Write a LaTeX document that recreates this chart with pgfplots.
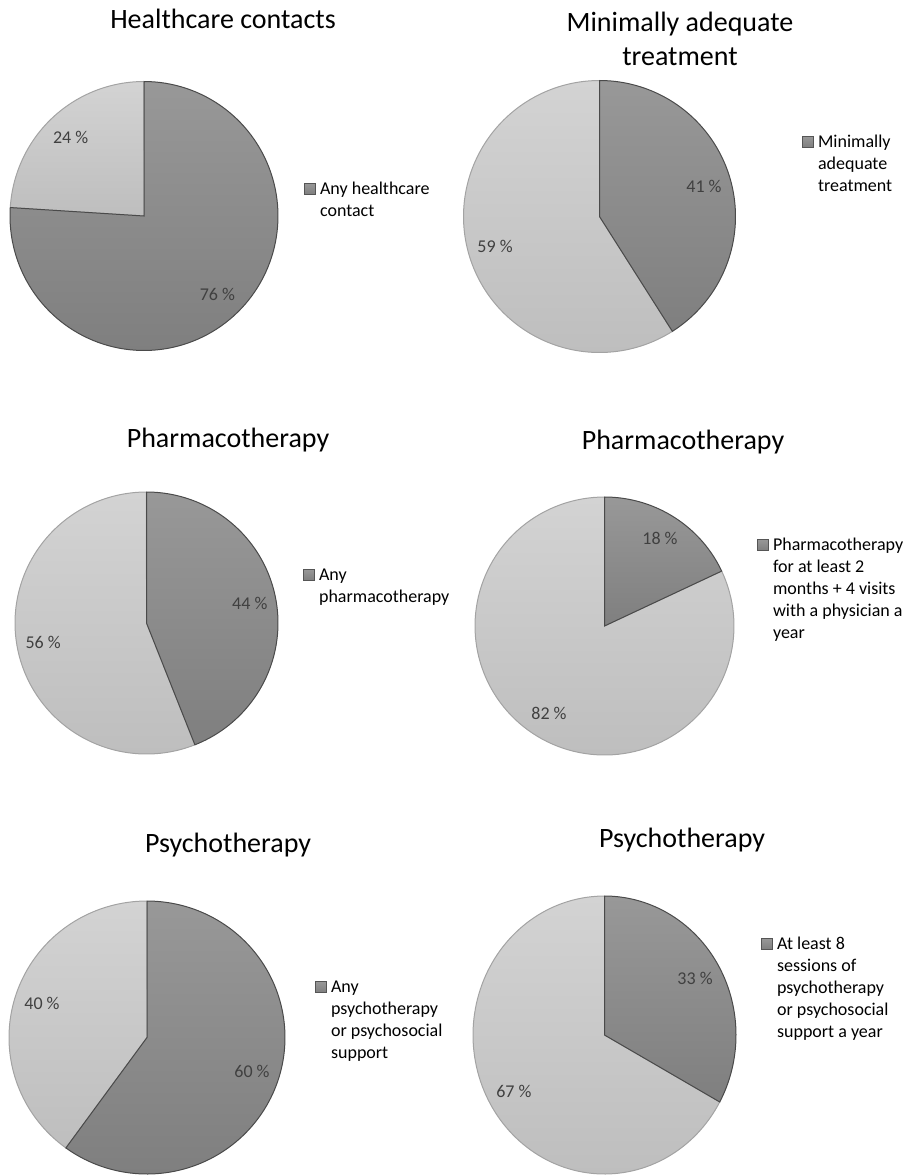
\documentclass[border=0pt]{standalone}
\usepackage{pgfplots}
\pgfplotsset{compat=1.18}
\usepackage{fontspec}
\setmainfont{Carlito}
\definecolor{darkA}{HTML}{989898}
\definecolor{darkB}{HTML}{7F7F7F}
\definecolor{lightA}{HTML}{D3D3D3}
\definecolor{lightB}{HTML}{BEBEBE}
\definecolor{darkedge}{HTML}{4A4A4A}
\definecolor{lightedge}{HTML}{A3A3A3}
\definecolor{lbl}{HTML}{404040}
\definecolor{legfill}{HTML}{8A8A8A}
\definecolor{legedge}{HTML}{555555}

\tikzset{plbl/.style={font=\fontsize{13.5}{16.5}\selectfont, text=lbl, inner sep=0pt}}
\pgfplotsset{
  pieax/.style={
    scale only axis, hide axis, clip=false,
    xmin=-1, xmax=1, ymin=-1, ymax=1,
    anchor=center,
    legend style={anchor=north west, draw=none, fill=none, inner sep=0pt,
      column sep=3pt,
      font=\fontsize{13.5}{16.5}\selectfont,
      nodes={inner sep=0pt},
      cells={anchor=base west}},
    legend image code/.code={%
      \draw[fill=legfill, draw=legedge, line width=0.6pt] (0pt,0pt) rectangle (8.25pt,8.25pt);},
  },
}

% #1 index, #2 width, #3 height, #4 dark share (%), #5 legend text, #6 legend position (axis description cs)
\newcommand{\pie}[6]{%
  \pgfmathtruncatemacro{\lp}{100-#4}%
  \begin{axis}[pieax, at={(c#1)}, width=#2, height=#3, legend style={at={(#6)}}]
    \addplot[forget plot, draw=lightedge, line width=0.75pt, top color=lightA, bottom color=lightB,
      domain=3.6*#4:360, samples=120] ({sin(x)},{cos(x)}) -- (axis cs:0,0) -- cycle;
    \addplot[draw=darkedge, line width=0.75pt, top color=darkA, bottom color=darkB,
      domain=0:3.6*#4, samples=120] ({sin(x)},{cos(x)}) -- (axis cs:0,0) -- cycle;
    \addlegendentry{\begin{tabular}[t]{@{}l@{}}#5\end{tabular}}
    \node[plbl] at (axis cs:{0.8*sin(1.8*#4)},{0.8*cos(1.8*#4)}) {#4 \%};
    \node[plbl] at (axis cs:{0.8*sin(3.6*#4+1.8*(100-#4))},{0.8*cos(3.6*#4+1.8*(100-#4))}) {\lp\ \%};
  \end{axis}%
}

\begin{document}
\begin{tikzpicture}
\begin{scope}[x=0.75pt,y=-0.75pt]
  % pie centres (px)
  \coordinate (c1) at (144,216);
  \coordinate (c2) at (599.5,216.5);
  \coordinate (c3) at (146.5,623);
  \coordinate (c4) at (604.5,626);
  \coordinate (c5) at (147,1037.5);
  \coordinate (c6) at (604.5,1035);
  % titles
  \tikzset{ttl/.style={anchor=base, inner sep=0pt, font=\fontsize{21}{25.5}\selectfont}}
  \node[ttl] at (223,28) {Healthcare contacts};
  \node[ttl] at (680,31) {Minimally adequate};
  \node[ttl] at (680,65) {treatment};
  \node[ttl] at (228,447) {Pharmacotherapy};
  \node[ttl] at (683,449) {Pharmacotherapy};
  \node[ttl] at (228,852) {Psychotherapy};
  \node[ttl] at (682,847) {Psychotherapy};
\end{scope}

\pie{1}{201pt}{201.75pt}{76}{Any healthcare\\contact}{1.0970,0.6390}
\pie{2}{204pt}{204pt}{41}{Minimally\\adequate\\treatment}{1.2445,0.8121}
\pie{3}{197.25pt}{196.5pt}{44}{Any\\pharmacotherapy}{1.0951,0.7229}
\pie{4}{194.25pt}{193.5pt}{18}{Pharmacotherapy\\for at least 2\\months + 4 visits\\with a physician a\\year}{1.0888,0.8543}
\pie{5}{207pt}{204.75pt}{60}{Any\\psychotherapy\\or psychosocial\\support}{1.1087,0.7231}
\pie{6}{197.25pt}{208.5pt}{33}{At least 8\\sessions of\\psychotherapy\\or psychosocial\\support a year}{1.0951,0.8647}

\begin{scope}[x=0.75pt,y=-0.75pt]
  \pgfresetboundingbox
  \useasboundingbox (0,0) rectangle (906,1175);
\end{scope}
\end{tikzpicture}
\end{document}
